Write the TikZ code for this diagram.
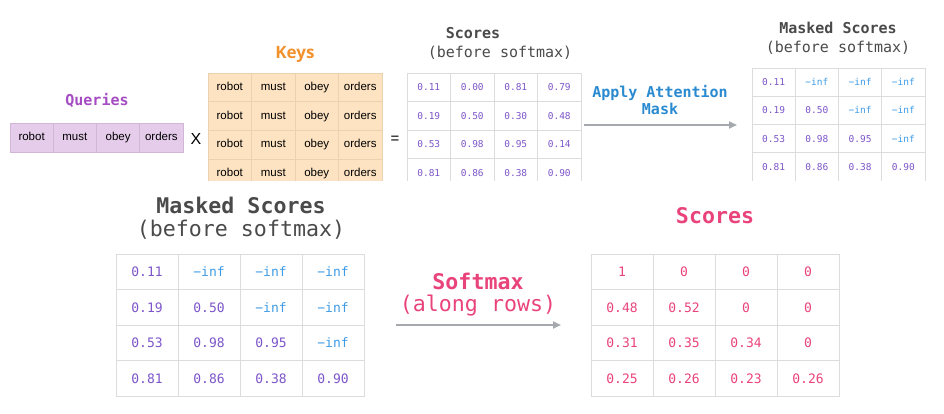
\documentclass[tikz,border=0pt]{standalone}
\usepackage{fontspec}
\setmainfont{Liberation Sans}
\setmonofont{DejaVu Sans Mono}
\newfontfamily\keysfont{Open Sans}
\usetikzlibrary{arrows.meta}
\definecolor{gridgray}{HTML}{DCDCDC}
\definecolor{numpurple}{HTML}{7C55C9}
\definecolor{infblue}{HTML}{3D9BE5}
\definecolor{titleblue}{HTML}{2A8AD0}
\definecolor{pinkc}{HTML}{E9437C}
\definecolor{arrowgray}{HTML}{A5A9AD}
\definecolor{titlegray}{HTML}{4A4A4A}
\definecolor{qfill}{HTML}{E6CCEB}
\definecolor{qline}{HTML}{D2B6D8}
\definecolor{qtitle}{HTML}{A54CC2}
\definecolor{kfill}{HTML}{FDE3C1}
\definecolor{kline}{HTML}{EBD2AE}
\definecolor{ktitle}{HTML}{F2922F}
\begin{document}
\begin{tikzpicture}[x=1pt,y=-1pt,
  topcell/.style={draw=gridgray, line width=0.8pt, inner sep=0pt, minimum width=43.4pt, minimum height=28.5pt, text height=7pt, text depth=0pt, font=\fontsize{9.5}{10}\selectfont\ttfamily},
  botcell/.style={draw=gridgray, line width=1pt, inner sep=0pt, minimum width=62pt, minimum height=35.5pt, text height=9.5pt, text depth=0pt, font=\fontsize{13}{15}\selectfont\ttfamily},
  qcell/.style={draw=qline, fill=qfill, line width=0.8pt, inner sep=0pt, minimum width=43.25pt, minimum height=29pt, text height=8.5pt, text depth=2.3pt, font=\fontsize{11.5}{13}\selectfont},
  kcell/.style={draw=kline, fill=kfill, line width=0.8pt, inner sep=0pt, minimum width=43.5pt, minimum height=28.7pt, text height=8.5pt, text depth=2.3pt, font=\fontsize{11.5}{13}\selectfont},
  P/.style={text=numpurple}, B/.style={text=infblue}, K/.style={text=pinkc},
  smalltitle/.style={font=\fontsize{15}{18}\selectfont\ttfamily, text=titlegray, inner sep=0pt},
  bigtitle/.style={font=\fontsize{21.6}{24}\selectfont\ttfamily, text=titlegray, inner sep=0pt},
  flow/.style={draw=arrowgray, line width=2.2pt, -{Triangle[length=8pt,width=7pt]}}
]
\useasboundingbox (0,0) rectangle (944,414);

% Queries
\node[font=\fontsize{15}{18}\selectfont\ttfamily\bfseries, text=qtitle, inner sep=0pt] (qt) at (97,100) {Queries};
\foreach \w [count=\c] in {robot,must,obey,orders}
  \node[qcell] (q-\c) at ({10+(\c-0.5)*43.25},137.5) {\w};
\node[font=\fontsize{16}{18}\selectfont, inner sep=0pt] (times) at (196,139) {X};

% Keys
\node[font=\fontsize{17}{20}\selectfont\keysfont\bfseries, text=ktitle, inner sep=0pt] (kt) at (295,54) {Keys};
\begin{scope}
\clip (200,60) rectangle (390,180.5);
\foreach \r in {1,...,4}
  \foreach \w [count=\c] in {robot,must,obey,orders}
    \node[kcell] (k-\r-\c) at ({208+(\c-0.5)*43.5},{73+(\r-0.5)*28.7}) {\w};
\end{scope}
\node[font=\fontsize{15}{18}\selectfont, inner sep=0pt] (eq) at (395,140) {=};

% Scores (before softmax)
\node[smalltitle, font=\fontsize{15}{18}\selectfont\ttfamily\bfseries] (st1) at (473,33) {Scores};
\node[smalltitle] (st2) at (500,53) {(before softmax)};
\begin{scope}
\clip (400,60) rectangle (582,180.5);
\foreach \row [count=\r] in {{P/0.11,P/0.00,P/0.81,P/0.79},{P/0.19,P/0.50,P/0.30,P/0.48},{P/0.53,P/0.98,P/0.95,P/0.14},{P/0.81,P/0.86,P/0.38,P/0.90}}
  \foreach \cl/\v [count=\c] in \row
    \node[topcell, \cl] (s-\r-\c) at ({407+(\c-0.5)*43.5},{73+(\r-0.5)*28.5}) {\v};
\end{scope}

% Apply attention mask arrow
\node[font=\fontsize{15}{18}\selectfont\ttfamily\bfseries, text=titleblue, align=center, inner sep=0pt] (amlabel) at (660,100) {Apply Attention\\[-1pt]Mask};
\coordinate (a1s) at (584,125);
\coordinate (a1e) at (737,125);
\draw[flow, line width=1.8pt] (a1s) -- (a1e);

% Masked scores top right
\node[smalltitle, font=\fontsize{15}{18}\selectfont\ttfamily\bfseries] (mt1) at (838,28) {Masked Scores};
\node[smalltitle] (mt2) at (838,48) {(before softmax)};
\begin{scope}
\clip (745,60) rectangle (930,180.5);
\foreach \row [count=\r] in {{P/0.11,B/−inf,B/−inf,B/−inf},{P/0.19,P/0.50,B/−inf,B/−inf},{P/0.53,P/0.98,P/0.95,B/−inf},{P/0.81,P/0.86,P/0.38,P/0.90}}
  \foreach \cl/\v [count=\c] in \row
    \node[topcell, \cl, minimum width=43.25pt, minimum height=28.3pt] (m-\r-\c) at ({752+(\c-0.5)*43.25},{68+(\r-0.5)*28.3}) {\v};
\end{scope}

% Masked scores bottom left
\node[bigtitle, font=\fontsize{21.6}{24}\selectfont\ttfamily\bfseries] (bt1) at (241,205) {Masked Scores};
\node[bigtitle] (bt2) at (241,230) {(before softmax)};
\foreach \row [count=\r] in {{P/0.11,B/−inf,B/−inf,B/−inf},{P/0.19,P/0.50,B/−inf,B/−inf},{P/0.53,P/0.98,P/0.95,B/−inf},{P/0.81,P/0.86,P/0.38,P/0.90}}
  \foreach \cl/\v [count=\c] in \row
    \node[botcell, \cl] (bm-\r-\c) at ({116+(\c-0.5)*62},{254+(\r-0.5)*35.5}) {\v};

% Softmax arrow
\node[font=\fontsize{21.6}{24}\selectfont\ttfamily\bfseries, text=pinkc, inner sep=0pt] (sm1) at (478,281) {Softmax};
\node[font=\fontsize{21.6}{24}\selectfont\ttfamily, text=pinkc, inner sep=0pt] (sm2) at (478,306) {(along rows)};
\coordinate (a2s) at (396,325);
\coordinate (a2e) at (561,325);
\draw[flow, line width=2pt] (a2s) -- (a2e);

% Scores bottom right
\node[bigtitle, font=\fontsize{21.6}{24}\selectfont\ttfamily\bfseries, text=pinkc] (ft) at (715,216) {Scores};
\foreach \row [count=\r] in {{K/1,K/0,K/0,K/0},{K/0.48,K/0.52,K/0,K/0},{K/0.31,K/0.35,K/0.34,K/0},{K/0.25,K/0.26,K/0.23,K/0.26}}
  \foreach \cl/\v [count=\c] in \row
    \node[botcell, \cl] (f-\r-\c) at ({591+(\c-0.5)*62},{254+(\r-0.5)*35.5}) {\v};
\end{tikzpicture}
\end{document}
